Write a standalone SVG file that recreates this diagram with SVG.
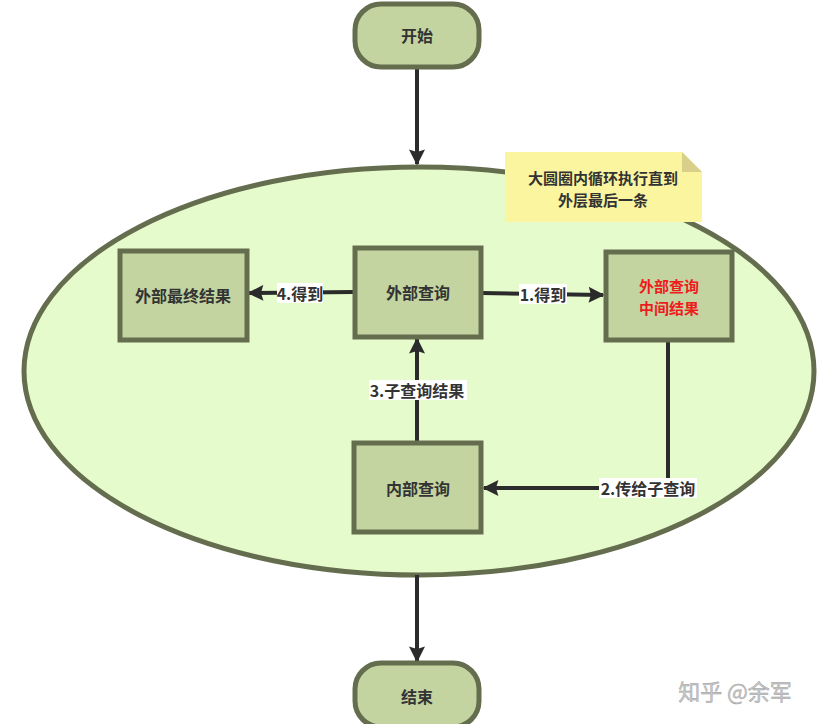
<svg xmlns="http://www.w3.org/2000/svg" width="821" height="724" viewBox="0 0 821 724">
<defs>
<style>
.node{fill:#c3d4a1;stroke:#646e4f;stroke-width:5}
.t{font-family:"Noto Sans CJK SC","Microsoft YaHei",sans-serif;font-size:16px;font-weight:bold;fill:#333;text-anchor:middle;dominant-baseline:central}
.t2{font-size:15px}
.red{fill:#ee1c1c}
.edge{stroke:#2b2b2b;stroke-width:4;fill:none}
.lbl{fill:#ffffff}
</style>
<marker id="ah" viewBox="0 0 10 10" refX="9" refY="5" markerWidth="5" markerHeight="4" markerUnits="strokeWidth" orient="auto">
<path d="M0,0 L10,5 L0,10 L1.5,5 z" fill="#2b2b2b"/>
</marker>
</defs>
<rect width="821" height="724" fill="#ffffff"/>
<g id="loop">
<ellipse cx="419" cy="371" rx="395" ry="204" fill="#e6fbcb" stroke="#646e4f" stroke-width="5"/>
</g>
<g id="note">
<path d="M505,152 L682,152 L702,172 L702,222 L505,222 z" fill="#fbf5a0"/>
<path d="M682,152 L682,172 L702,172 z" fill="#d8d08a"/>
<text class="t t2" x="603" y="177">大圆圈内循环执行直到</text>
<text class="t t2" x="603" y="199">外层最后一条</text>
</g>
<g id="connectors">
<line class="edge" x1="417" y1="67" x2="417" y2="164" marker-end="url(#ah)"/>
<line class="edge" x1="354" y1="292" x2="249" y2="293" marker-end="url(#ah)"/>
<line class="edge" x1="482" y1="293" x2="603" y2="295" marker-end="url(#ah)"/>
<polyline class="edge" points="668,340 668,488 484,488" marker-end="url(#ah)"/>
<line class="edge" x1="417" y1="443" x2="417" y2="339" marker-end="url(#ah)"/>
<line class="edge" x1="417" y1="575" x2="417" y2="661" marker-end="url(#ah)"/>
<rect class="lbl" x="277" y="283" width="46" height="20"/>
<text class="t" x="300" y="293">4.得到</text>
<rect class="lbl" x="519" y="284" width="48" height="20"/>
<text class="t" x="543" y="294">1.得到</text>
<rect class="lbl" x="599" y="478" width="98" height="20"/>
<text class="t" x="648" y="488">2.传给子查询</text>
<rect class="lbl" x="369" y="380" width="98" height="20"/>
<text class="t" x="417" y="390">3.子查询结果</text>
</g>
<g id="start">
<rect class="node" x="355" y="4" width="124" height="63" rx="26"/>
<text class="t" x="417" y="35">开始</text>
</g>
<g id="outer-final">
<rect class="node" x="120" y="251" width="127" height="89"/>
<text class="t" x="183" y="295">外部最终结果</text>
</g>
<g id="outer-query">
<rect class="node" x="355" y="248" width="126" height="89"/>
<text class="t" x="418" y="292">外部查询</text>
</g>
<g id="outer-mid">
<rect class="node" x="606" y="252" width="126" height="88"/>
<text class="t t2 red" x="669" y="285">外部查询</text>
<text class="t t2 red" x="669" y="307">中间结果</text>
</g>
<g id="inner-query">
<rect class="node" x="354" y="443" width="127" height="89"/>
<text class="t" x="418" y="488">内部查询</text>
</g>
<g id="end">
<rect class="node" x="355" y="663" width="124" height="64" rx="26"/>
<text class="t" x="417" y="696">结束</text>
</g>
<text x="735" y="690" font-family="Noto Sans CJK SC,sans-serif" font-size="22" fill="#c8c8c8" stroke="#9a9a9a" stroke-width="0.4" text-anchor="middle" dominant-baseline="central">知乎 @余军</text>
</svg>
